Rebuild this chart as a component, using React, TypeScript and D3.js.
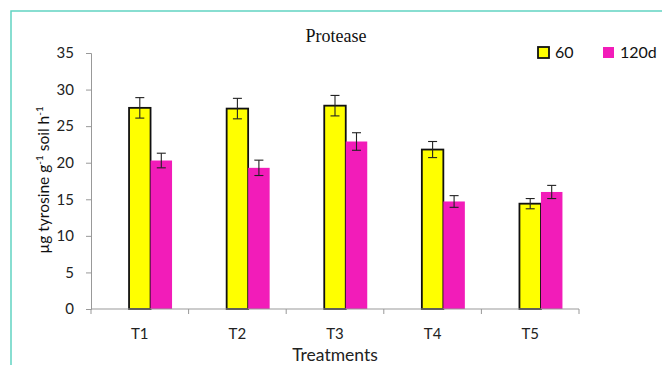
import React, { useEffect, useRef } from 'react';
import * as d3 from 'd3';

// chart data
const treatments = ['T1', 'T2', 'T3', 'T4', 'T5'];
const seriesNames = ['60', '120d'];
const values60 = [27.5, 27.4, 27.8, 21.8, 14.4];
const values120 = [20.3, 19.3, 22.9, 14.7, 16.0];
const err60 = [1.4, 1.4, 1.4, 1.1, 0.7];
const err120 = [1.0, 1.05, 1.2, 0.8, 0.9];
const yTicks = [0, 5, 10, 15, 20, 25, 30, 35];

const colors: Record<string, string> = { '60': '#FFFF00', '120d': '#F21CB9' };
const font = 'Lato, "Open Sans", sans-serif';

const App = () => {
    const svgRef = useRef<SVGSVGElement>(null);

    useEffect(() => {
        const width = 662;
        const height = 365;
        const margin = { top: 53, right: 83, bottom: 56, left: 91 };

        const svg = d3.select(svgRef.current);
        svg.selectAll('*').remove();
        svg.attr('width', width).attr('height', height);

        // teal frame around the figure
        svg.append('rect')
            .attr('x', 11).attr('y', 11)
            .attr('width', 700).attr('height', 400)
            .attr('fill', 'none')
            .attr('stroke', '#62d4c2')
            .attr('stroke-width', 1.5);

        const x = d3.scaleBand()
            .domain(treatments)
            .range([margin.left, width - margin.right]);

        // first slot is left empty, as in the original plot
        const inner = d3.scaleBand()
            .domain(['', ...seriesNames])
            .range([0, x.bandwidth()])
            .paddingOuter(0.77);

        const y = d3.scaleLinear()
            .domain([0, 35])
            .range([height - margin.bottom, margin.top]);

        const rows = treatments.map((t, i) => ({
            t,
            bars: [
                { key: '60', value: values60[i], err: err60[i] },
                { key: '120d', value: values120[i], err: err120[i] },
            ],
        }));

        // bars
        const groups = svg.append('g')
            .selectAll('g')
            .data(rows)
            .join('g')
            .attr('transform', d => `translate(${x(d.t)},0)`);

        groups.selectAll('rect')
            .data(d => d.bars)
            .join('rect')
            .attr('x', d => inner(d.key)!)
            .attr('y', d => y(d.value))
            .attr('width', inner.bandwidth())
            .attr('height', d => y(0) - y(d.value))
            .attr('fill', d => colors[d.key])
            .attr('stroke', d => (d.key === '60' ? '#111' : 'none'))
            .attr('stroke-width', 1.8);

        // error bars
        const eb = groups.selectAll('g.err')
            .data(d => d.bars)
            .join('g')
            .attr('class', 'err')
            .attr('stroke', '#222')
            .attr('stroke-width', 1.1);
        const cx = (d: any) => inner(d.key)! + inner.bandwidth() / 2;
        eb.append('line')
            .attr('x1', cx).attr('x2', cx)
            .attr('y1', d => y(d.value + d.err))
            .attr('y2', d => y(d.value - d.err));
        [1, -1].forEach(s => {
            eb.append('line')
                .attr('x1', d => cx(d) - 4.5).attr('x2', d => cx(d) + 4.5)
                .attr('y1', d => y(d.value + s * d.err))
                .attr('y2', d => y(d.value + s * d.err));
        });

        // y axis
        const yAxis = svg.append('g')
            .attr('transform', `translate(${margin.left},0)`)
            .call(d3.axisLeft(y).tickValues(yTicks).tickSize(5).tickPadding(12));
        yAxis.select('.domain').attr('stroke', '#999');
        yAxis.selectAll('.tick line').attr('stroke', '#999');
        yAxis.selectAll('.tick text')
            .attr('fill', '#222')
            .style('font-family', font)
            .style('font-size', '15px');

        // x axis, ticks between categories
        const xAxisG = svg.append('g')
            .attr('transform', `translate(0,${y(0)})`);
        xAxisG.append('line')
            .attr('x1', margin.left).attr('x2', width - margin.right)
            .attr('stroke', '#999');
        const bounds = [...treatments.map(t => x(t)!), width - margin.right];
        xAxisG.selectAll('line.tk')
            .data(bounds)
            .join('line')
            .attr('class', 'tk')
            .attr('x1', d => d).attr('x2', d => d)
            .attr('y1', 0).attr('y2', 5)
            .attr('stroke', '#999');
        xAxisG.selectAll('text')
            .data(treatments)
            .join('text')
            .attr('x', d => x(d)! + x.bandwidth() / 2)
            .attr('y', 30)
            .attr('text-anchor', 'middle')
            .attr('fill', '#222')
            .style('font-family', font)
            .style('font-size', '15px')
            .text(d => d);

        // axis titles
        svg.append('text')
            .attr('x', (margin.left + width - margin.right) / 2)
            .attr('y', 361)
            .attr('text-anchor', 'middle')
            .attr('fill', '#222')
            .style('font-family', font)
            .style('font-size', '17.5px')
            .text('Treatments');

        const yl = svg.append('text')
            .attr('transform', 'translate(49,180) rotate(-90)')
            .attr('text-anchor', 'middle')
            .attr('fill', '#111')
            .style('font-family', font)
            .style('font-size', '15.5px');
        yl.append('tspan').text('µg tyrosine g');
        yl.append('tspan').attr('baseline-shift', 'super').style('font-size', '10px').text('-1');
        yl.append('tspan').text(' soil h');
        yl.append('tspan').attr('baseline-shift', 'super').style('font-size', '10px').text('-1');

        // chart title
        svg.append('text')
            .attr('x', 336)
            .attr('y', 42)
            .attr('text-anchor', 'middle')
            .attr('fill', '#111')
            .style('font-family', '"Liberation Serif", "Times New Roman", serif')
            .style('font-size', '18px')
            .text('Protease');

        // legend
        const legend = svg.append('g');
        const legendX = [538, 603];
        seriesNames.forEach((name, i) => {
            legend.append('rect')
                .attr('x', legendX[i]).attr('y', 47)
                .attr('width', 11).attr('height', 11)
                .attr('fill', colors[name])
                .attr('stroke', name === '60' ? '#111' : 'none')
                .attr('stroke-width', 1.8);
            legend.append('text')
                .attr('x', legendX[i] + 17)
                .attr('y', 58)
                .attr('fill', '#111')
                .style('font-family', font)
                .style('font-size', '16px')
                .text(name);
        });
    }, []);

    return (
        <svg ref={svgRef} style={{ position: 'absolute', left: 0, top: 0, background: '#fff' }}></svg>
    );
};

export default App;
